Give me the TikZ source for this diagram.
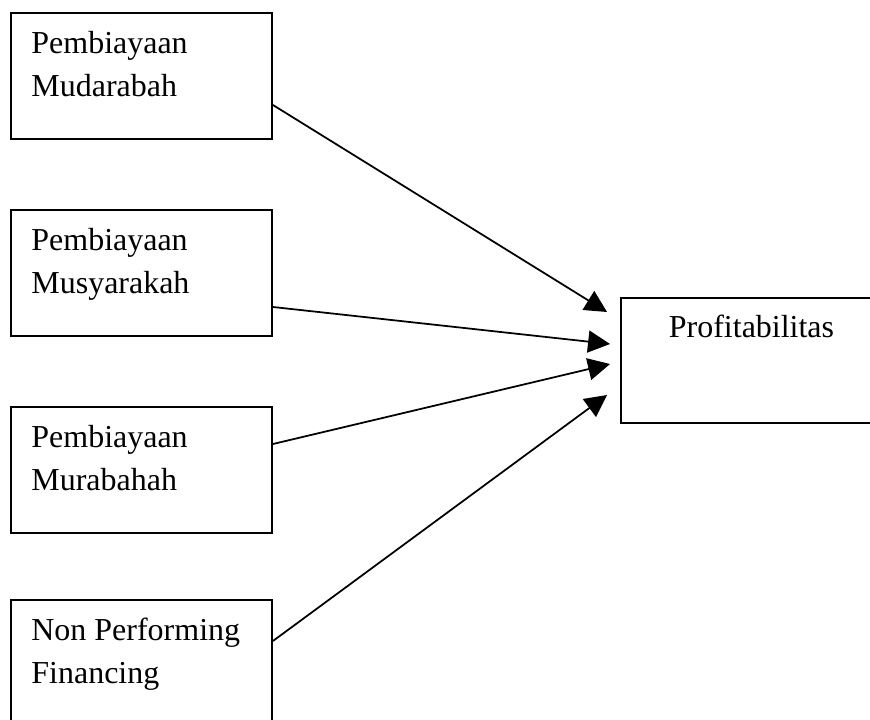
\documentclass[tikz,border=0pt]{standalone}
\usepackage{fontspec}
\setmainfont{Liberation Serif}
\usepackage{tikz}
\usetikzlibrary{arrows.meta, positioning}

\begin{document}
\begin{tikzpicture}[
    x=0.02cm, y=-0.02cm,
    box/.style={draw, line width=1.1pt, minimum width=5.22cm, minimum height=2.52cm, inner sep=0pt},
    txt/.style={align=left, inner sep=0pt, font=\fontsize{18.2}{24.5}\selectfont},
    arrow/.style={-{Triangle[length=0.44cm, width=0.44cm]}, line width=1pt}
]

\useasboundingbox (0,0) rectangle (870,720);

% Boxes
\node[box] (mudarabah) at (141.5,76) {};
\node[box] (musyarakah) at (141.5,273) {};
\node[box] (murabahah) at (141.5,470) {};
\node[box] (npf) at (141.5,663) {};
\node[box, minimum height=2.5cm] (profit) at (751.5,360.5) {};

% Labels
\node[txt, anchor=north west] (tmudarabah) at ([shift={(21,19)}]mudarabah.north west)
{Pembiayaan\\Mudarabah};
\node[txt, anchor=north west] (tmusyarakah) at ([shift={(21,19)}]musyarakah.north west)
{Pembiayaan\\Musyarakah};
\node[txt, anchor=north west] (tmurabahah) at ([shift={(21,19)}]murabahah.north west)
{Pembiayaan\\Murabahah};
\node[txt, anchor=north west] (tnpf) at ([shift={(21,19)}]npf.north west)
{Non Performing\\Financing};
\node[txt, anchor=north] (tprofit) at ([shift={(0,18)}]profit.north)
{Profitabilitas};

% Arrows
\draw[arrow] ([yshift=-0.58cm]mudarabah.east) -- ([xshift=-0.26cm, yshift=0.97cm]profit.west);
\draw[arrow] ([yshift=-0.68cm]musyarakah.east) -- ([xshift=-0.2cm, yshift=0.33cm]profit.west);
\draw[arrow] ([yshift=0.52cm]murabahah.east) -- ([xshift=-0.2cm, yshift=-0.07cm]profit.west);
\draw[arrow] ([yshift=0.44cm]npf.east) -- ([xshift=-0.26cm, yshift=-0.69cm]profit.west);

\end{tikzpicture}
\end{document}
